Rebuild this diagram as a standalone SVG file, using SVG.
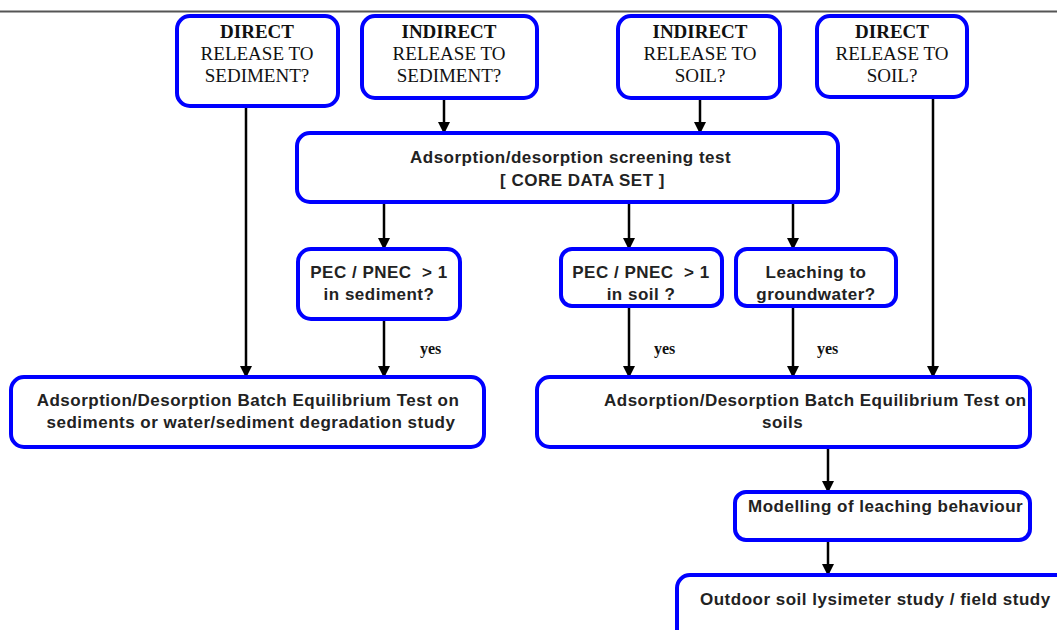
<svg xmlns="http://www.w3.org/2000/svg" width="1057" height="630" viewBox="0 0 1057 630">
<defs>
<marker id="ah" markerWidth="12" markerHeight="12" refX="10" refY="6" orient="auto" markerUnits="userSpaceOnUse" viewBox="0 0 12 12">
<path d="M0,0 L12,6 L0,12 Z" fill="#000"/>
</marker>
<style>
.box{fill:#fff;stroke:#0000ff;stroke-width:4}
.q{font-family:"Liberation Serif",serif;font-size:19px;fill:#111;text-anchor:middle}
.b{font-weight:bold}
.t{font-family:"Liberation Sans",Arial,sans-serif;font-size:17px;letter-spacing:0.5px;font-weight:bold;fill:#222;white-space:pre}
.tm{text-anchor:middle}
.yes{font-family:"Liberation Serif",serif;font-size:16px;font-weight:bold;fill:#111}
.c{stroke:#000;stroke-width:2.5;fill:none;marker-end:url(#ah)}
</style>
</defs>
<rect width="1057" height="630" fill="#fff"/>
<line x1="0" y1="11.5" x2="1057" y2="11.5" stroke="#555" stroke-width="2"/>
<g id="connectors">
<line class="c" x1="246" y1="106" x2="246" y2="376"/>
<line class="c" x1="444" y1="98" x2="444" y2="132"/>
<line class="c" x1="700" y1="98" x2="700" y2="132"/>
<line class="c" x1="933" y1="97" x2="933" y2="376"/>
<line class="c" x1="384" y1="202" x2="384" y2="248"/>
<line class="c" x1="629" y1="202" x2="629" y2="248"/>
<line class="c" x1="793" y1="202" x2="793" y2="248"/>
<line class="c" x1="384" y1="319" x2="384" y2="376"/>
<line class="c" x1="629" y1="306" x2="629" y2="376"/>
<line class="c" x1="793" y1="306" x2="793" y2="376"/>
<line class="c" x1="828" y1="447" x2="828" y2="491"/>
<line class="c" x1="828" y1="540" x2="828" y2="574"/>
<text class="yes" x="420" y="354">yes</text>
<text class="yes" x="654" y="354">yes</text>
<text class="yes" x="817" y="354">yes</text>
</g>
<g id="direct-sediment">
<rect class="box" x="177" y="16" width="161" height="90" rx="13"/>
<text class="q b" x="257" y="38">DIRECT</text>
<text class="q" x="257" y="60">RELEASE TO</text>
<text class="q" x="257" y="82">SEDIMENT?</text>
</g>
<g id="indirect-sediment">
<rect class="box" x="362" y="16" width="175" height="82" rx="13"/>
<text class="q b" x="449" y="38">INDIRECT</text>
<text class="q" x="449" y="60">RELEASE TO</text>
<text class="q" x="449" y="82">SEDIMENT?</text>
</g>
<g id="indirect-soil">
<rect class="box" x="618" y="16" width="162" height="82" rx="13"/>
<text class="q b" x="700" y="38">INDIRECT</text>
<text class="q" x="700" y="60">RELEASE TO</text>
<text class="q" x="700" y="82">SOIL?</text>
</g>
<g id="direct-soil">
<rect class="box" x="817" y="16" width="150" height="81" rx="13"/>
<text class="q b" x="892" y="38">DIRECT</text>
<text class="q" x="892" y="60">RELEASE TO</text>
<text class="q" x="892" y="82">SOIL?</text>
</g>
<g id="screening">
<rect class="box" x="297" y="133" width="541" height="69" rx="13"/>
<text class="t" x="410" y="163">Adsorption/desorption screening test</text>
<text class="t" x="500" y="186">[ CORE DATA SET ]</text>
</g>
<g id="pec-sediment">
<rect class="box" x="298" y="249" width="162" height="70" rx="13"/>
<text class="t tm" x="379" y="278">PEC / PNEC  &gt; 1</text>
<text class="t tm" x="379" y="300">in sediment?</text>
</g>
<g id="pec-soil">
<rect class="box" x="561" y="249" width="161" height="57" rx="11"/>
<text class="t tm" x="641" y="278">PEC / PNEC  &gt; 1</text>
<text class="t tm" x="641" y="300">in soil ?</text>
</g>
<g id="leaching">
<rect class="box" x="736" y="249" width="160" height="57" rx="11"/>
<text class="t tm" x="816" y="278">Leaching to</text>
<text class="t tm" x="816" y="300">groundwater?</text>
</g>
<g id="batch-sediment">
<rect class="box" x="11" y="377" width="473" height="70" rx="13"/>
<text class="t tm" x="248" y="406">Adsorption/Desorption Batch Equilibrium Test on</text>
<text class="t tm" x="251" y="428">sediments or water/sediment degradation study</text>
</g>
<g id="batch-soils">
<rect class="box" x="537" y="377" width="493" height="70" rx="13"/>
<text class="t" x="604" y="406">Adsorption/Desorption Batch Equilibrium Test on</text>
<text class="t" x="762" y="428">soils</text>
</g>
<g id="modelling">
<rect class="box" x="735" y="492" width="295" height="48" rx="11"/>
<text class="t" x="748" y="512">Modelling of leaching behaviour</text>
</g>
<g id="outdoor">
<rect class="box" x="677" y="575" width="400" height="80" rx="13"/>
<text class="t" x="700" y="605">Outdoor soil lysimeter study / field study</text>
</g>
</svg>
